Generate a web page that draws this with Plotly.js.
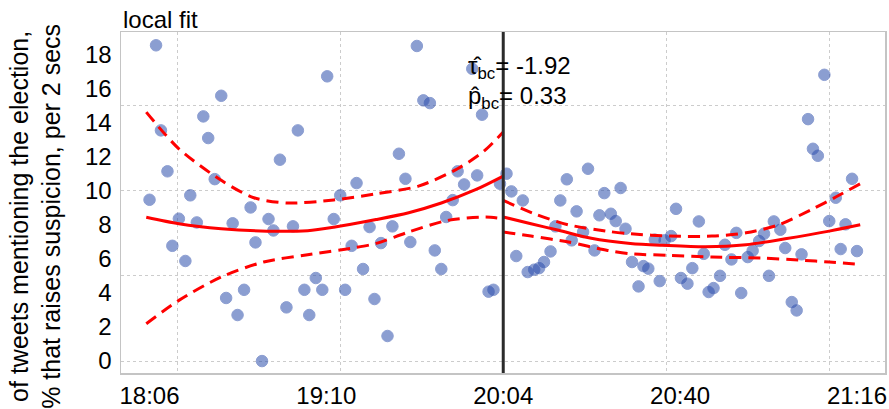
<!DOCTYPE html>
<html>
<head>
<meta charset="utf-8">
<script src="https://cdn.plot.ly/plotly-3.0.1.min.js"></script>
<style>html,body{margin:0;padding:0;background:#fff;}#chart{width:889px;height:409px;}</style>
</head>
<body>
<div id="chart"></div>
<script>
// running variable (normalised position relative to the cutoff) and counts
const cutoff = 0;
const xLeft = [-2.13,-1.08,-1.73,-1.84,-2.10,-1.81,-1.26,-1.37,-2.06,-1.77,-0.90,-2.17,-1.92,-1.00,-1.55,-1.99,-1.88,-1.66,-1.44,-1.41,-1.29,-1.04,-0.82,-2.03,-1.52,-0.93,-1.95,-0.86,-1.15,-1.59,-1.70,-1.22,-1.11,-0.97,-0.79,-1.33,-1.63,-1.19,-1.48,-0.53,-0.19,-0.49,-0.45,-0.13,-0.64,-0.60,-0.28,-0.16,-0.24,-0.02,-0.31,-0.35,-0.68,-0.75,-0.57,-0.42,-0.38,-0.09,-0.06,-0.71];
const yLeft = [18.52,16.70,15.56,14.35,13.53,13.08,13.53,11.81,11.13,10.67,10.44,9.46,9.72,9.72,9.01,8.35,8.13,8.08,8.33,7.66,7.90,8.33,7.86,6.76,6.96,6.76,5.87,5.40,4.87,4.18,3.70,4.18,4.18,4.18,3.64,3.15,2.70,2.70,0.00,18.48,17.14,15.29,15.13,14.45,12.16,10.69,11.13,10.89,10.36,10.40,9.44,8.45,7.90,6.92,6.98,6.49,5.40,4.07,4.18,1.47];
const xRight = [0.02,0.05,0.12,0.52,0.39,0.35,0.62,0.72,0.45,0.59,0.66,0.69,0.75,0.32,0.49,0.42,0.56,0.79,0.08,0.29,0.25,0.22,0.19,0.15,1.97,1.87,1.90,1.93,2.14,2.04,1.06,1.20,1.66,2.00,2.10,1.70,1.60,1.43,1.03,0.99,0.93,1.57,1.36,1.73,2.07,2.17,1.23,1.53,1.50,1.40,1.83,0.86,0.89,1.16,1.09,1.13,0.96,0.83,1.33,1.29,1.26,1.63,1.46,1.77,1.80];
const yRight = [10.99,9.95,9.42,11.28,10.66,9.42,9.85,10.15,8.78,8.55,8.64,8.21,7.76,7.90,7.57,7.08,6.49,5.81,6.16,6.43,5.81,5.45,5.36,5.22,16.79,14.19,12.45,12.04,10.69,9.58,8.93,8.19,8.19,8.21,8.02,7.70,7.47,7.52,7.33,7.08,7.12,7.04,6.82,6.63,6.57,6.45,6.29,6.47,6.10,5.96,6.26,5.57,5.42,5.45,4.87,4.54,4.69,4.38,5.00,4.28,4.05,5.00,3.99,3.46,2.97];

// local polynomial fit and confidence bands
const fitXL = [-2.19,-1.99,-1.73,-1.45,-1.20,-1.04,-0.78,-0.58,-0.38,-0.17,0];
const fitYL = [8.43,8.05,7.76,7.62,7.65,7.85,8.30,8.70,9.27,10.05,10.85];
const upXL = [-2.19,-1.99,-1.73,-1.53,-1.32,-1.04,-0.78,-0.52,-0.28,-0.12,0];
const upYL = [14.60,12.45,10.60,9.58,9.27,9.45,9.81,10.26,11.28,12.3,13.43];
const loXL = [-2.19,-1.99,-1.73,-1.47,-1.20,-0.91,-0.78,-0.58,-0.34,-0.11,0];
const loYL = [2.19,3.56,4.93,5.81,6.24,6.65,6.90,7.57,8.25,8.45,8.35];
const fitXR = [0,0.17,0.34,0.54,0.78,0.98,1.24,1.49,1.73,2.00,2.19];
const fitYR = [8.45,8.05,7.67,7.20,6.90,6.79,6.70,6.82,7.17,7.62,7.99];
const upXR = [0,0.19,0.40,0.64,0.78,1.02,1.28,1.49,1.69,1.90,2.04,2.19];
const upYR = [9.42,8.64,7.99,7.61,7.47,7.33,7.33,7.52,7.99,8.93,9.62,10.40];
const loXR = [0,0.17,0.40,0.64,0.78,1.02,1.28,1.59,1.84,2.00,2.19];
const loYR = [7.57,7.33,6.98,6.49,6.29,6.20,6.10,6.04,5.91,5.81,5.67];

// axis ticks
const xTickPos = [-2.17,-1.085,0,1.085,2.17];
const xTickLabels = ['18:06','19:10','20:04','20:40','21:16'];
const xGrid = [-2,-1,0,1,2];
const yTicks = [0,2,4,6,8,10,12,14,16,18];
const yGrid = [0,5,10,15];

const tauText = 'τ\u0302<sub>bc</sub>= -1.92';
const pText = 'p\u0302<sub>bc</sub>= 0.33';

const red = '#ff0000';
const dashPat = '12px,7px';
const font = 'Liberation Sans, Arial, Helvetica, sans-serif';
const fs = 24;

function pts(x, y) {
  return {x: x, y: y, type: 'scatter', mode: 'markers', hoverinfo: 'skip',
    marker: {size: 11.5, color: 'rgb(46,79,173)', opacity: 0.55, line: {color: 'rgb(46,79,173)', width: 1}}};
}
function ln(x, y, dash) {
  return {x: x, y: y, type: 'scatter', mode: 'lines', hoverinfo: 'skip',
    line: {color: red, width: 3, shape: 'spline', smoothing: 0.8, dash: dash || 'solid'}};
}

const data = [
  pts(xLeft, yLeft), pts(xRight, yRight),
  ln(fitXL, fitYL), ln(upXL, upYL, dashPat), ln(loXL, loYL, dashPat),
  ln(fitXR, fitYR), ln(upXR, upYR, dashPat), ln(loXR, loYR, dashPat)
];

const layout = {
  width: 889, height: 409,
  margin: {l: 121, r: 4, t: 32, b: 36},
  paper_bgcolor: '#fff', plot_bgcolor: '#fff',
  showlegend: false,
  font: {family: font, size: fs, color: '#000'},
  xaxis: {
    range: [-2.345, 2.342], tickvals: xTickPos, ticktext: xTickLabels,
    showgrid: false, zeroline: false, ticks: '', ticklabelstandoff: 1,
    showline: true, mirror: true, linecolor: '#c4c4c4', linewidth: 1.5,
    tickfont: {family: font, size: fs, color: '#000'},
    minor: {tickvals: xGrid, showgrid: true, gridcolor: '#cccccc', gridwidth: 1, griddash: 'dot', ticks: ''}
  },
  yaxis: {
    range: [-0.7, 19.3], tickvals: yTicks,
    showgrid: false, zeroline: false, ticks: '', ticklabelstandoff: 3,
    showline: true, mirror: true, linecolor: '#c4c4c4', linewidth: 1.5,
    tickfont: {family: font, size: fs, color: '#000'},
    minor: {tickvals: yGrid, showgrid: true, gridcolor: '#cccccc', gridwidth: 1, griddash: 'dot', ticks: ''}
  },
  shapes: [{type: 'line', xref: 'x', yref: 'paper', x0: cutoff, x1: cutoff, y0: 0, y1: 1,
    line: {color: '#2b2b2b', width: 3}, layer: 'above'}],
  annotations: [
    {text: 'local fit', xref: 'paper', yref: 'paper', x: 0, y: 1, xanchor: 'left', yanchor: 'bottom',
      yshift: -3, showarrow: false, font: {family: font, size: fs, color: '#000'}},
    {text: 'of tweets mentioning the election,<br>% that raises suspicion, per 2 secs',
      xref: 'paper', yref: 'paper', x: -0.113, y: 0.46, xanchor: 'center', yanchor: 'middle',
      textangle: -90, showarrow: false, font: {family: font, size: 25, color: '#000'}},
    {text: tauText, xref: 'x', yref: 'y', x: -0.23, y: 17.24, xanchor: 'left', yanchor: 'middle',
      showarrow: false, font: {family: font, size: fs, color: '#000'}},
    {text: pText, xref: 'x', yref: 'y', x: -0.23, y: 15.48, xanchor: 'left', yanchor: 'middle',
      showarrow: false, font: {family: font, size: fs, color: '#000'}}
  ]
};

Plotly.newPlot('chart', data, layout, {staticPlot: true, displayModeBar: false});
</script>
</body>
</html>
